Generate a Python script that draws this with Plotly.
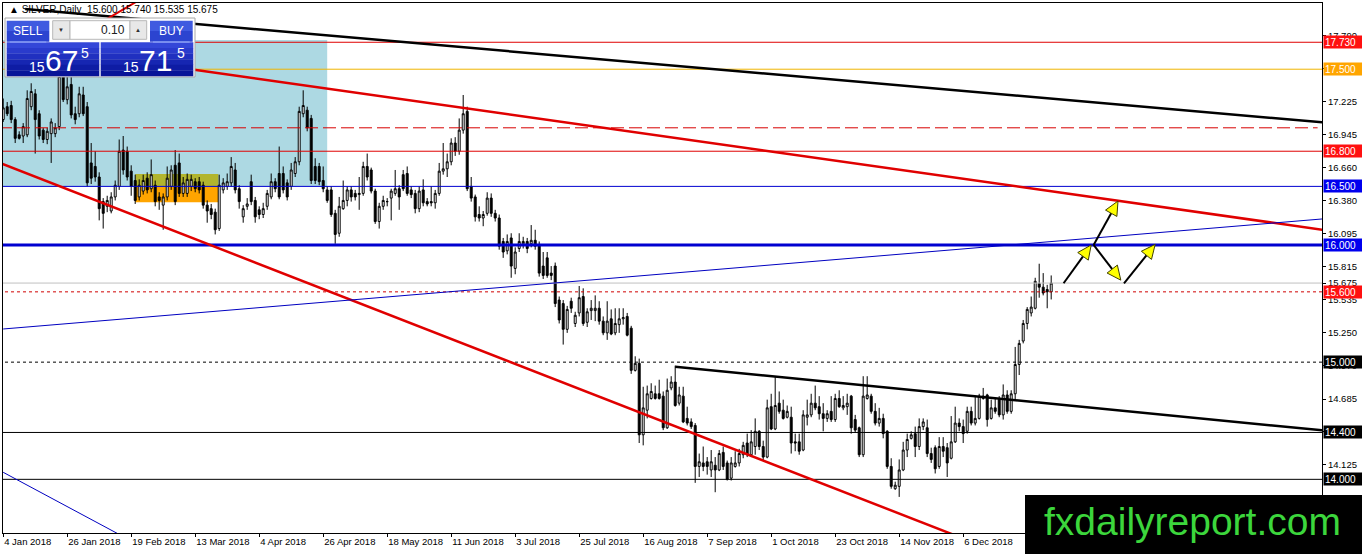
import plotly.graph_objects as go

# ---------------- data ----------------
BARS = list(range(263))
OPEN = [17.07,17.18,17.19,17.07,16.94,16.93,16.94,17.18,17.29,17.12,
        16.98,16.90,16.95,16.95,17.01,17.45,17.24,17.37,17.12,17.12,
        17.28,17.18,16.70,16.67,16.58,16.37,16.33,16.29,16.41,16.50,
        16.81,16.80,16.63,16.55,16.41,16.46,16.57,16.48,16.51,16.41,
        16.34,16.41,16.50,16.68,16.70,16.44,16.44,16.50,16.54,16.54,
        16.51,16.34,16.31,16.28,16.14,16.47,16.50,16.53,16.64,16.48,
        16.24,16.33,16.54,16.38,16.30,16.26,16.33,16.41,16.54,16.61,
        16.61,16.53,16.50,16.61,16.71,17.12,17.15,17.08,16.67,16.67,
        16.55,16.47,16.47,16.27,16.10,16.31,16.38,16.47,16.44,16.43,
        16.44,16.67,16.64,16.46,16.20,16.33,16.37,16.40,16.44,16.48,
        16.60,16.61,16.47,16.44,16.31,16.47,16.37,16.37,16.36,16.44,
        16.63,16.65,16.71,16.87,16.80,16.98,17.14,16.50,16.41,16.26,
        16.23,16.27,16.40,16.27,16.23,16.03,15.95,16.06,15.80,15.97,
        16.01,16.03,16.01,16.04,16.00,15.82,15.89,15.76,15.82,15.53,
        15.50,15.28,15.52,15.33,15.42,15.56,15.34,15.44,15.44,15.46,
        15.35,15.25,15.37,15.25,15.32,15.37,15.39,15.29,14.93,14.99,
        14.38,14.59,14.69,14.73,14.73,14.71,14.44,14.78,14.83,14.65,
        14.71,14.52,14.49,14.46,14.11,14.14,14.15,14.08,14.12,14.08,
        14.23,14.14,14.01,14.11,14.14,14.21,14.31,14.21,14.28,14.41,
        14.28,14.19,14.62,14.43,14.65,14.59,14.53,14.53,14.32,14.32,
        14.25,14.53,14.55,14.65,14.62,14.56,14.52,14.58,14.51,14.69,
        14.61,14.62,14.71,14.51,14.44,14.21,14.69,14.71,14.58,14.48,
        14.52,14.41,14.11,13.92,13.94,14.08,14.25,14.35,14.39,14.28,
        14.45,14.44,14.22,14.27,14.11,14.28,14.27,14.18,14.32,14.48,
        14.45,14.41,14.58,14.48,14.52,14.69,14.72,14.52,14.61,14.68,
        14.55,14.72,14.58,14.73,14.98,15.18,15.33,15.42,15.46,15.67,
        15.64,15.62,15.600]
HIGH = [17.25,17.22,17.23,17.09,16.97,17.04,17.32,17.38,17.33,17.15,
        17.00,17.00,17.08,17.04,17.52,17.60,17.55,17.45,17.18,17.35,
        17.35,17.22,16.87,16.80,16.62,16.40,16.42,16.45,16.55,16.90,
        16.93,16.84,16.68,16.60,16.56,16.60,16.62,16.73,16.55,16.45,
        16.44,16.67,16.68,16.81,16.78,16.58,16.61,16.60,16.57,16.58,
        16.54,16.38,16.35,16.31,16.60,16.57,16.61,16.75,16.70,16.51,
        16.34,16.40,16.60,16.41,16.33,16.36,16.47,16.61,16.57,16.84,
        16.67,16.56,16.70,16.75,17.18,17.32,17.18,17.11,16.74,16.70,
        16.67,16.50,16.50,16.30,16.41,16.55,16.50,16.50,16.47,16.58,
        16.71,16.78,16.66,16.48,16.36,16.42,16.40,16.48,16.64,16.51,
        16.64,16.67,16.50,16.47,16.50,16.56,16.40,16.50,16.47,16.70,
        16.87,16.78,16.91,16.92,17.08,17.28,17.18,16.58,16.43,16.33,
        16.29,16.45,16.44,16.30,16.26,16.06,16.09,16.10,15.98,16.10,
        16.07,16.06,16.17,16.13,16.03,15.94,15.94,15.82,15.85,15.56,
        15.53,15.48,15.55,15.43,15.65,15.63,15.46,15.53,15.57,15.52,
        15.39,15.52,15.45,15.46,15.46,15.46,15.42,15.31,15.05,15.03,
        14.79,14.80,14.82,14.80,14.85,14.75,14.86,14.88,14.97,14.79,
        14.79,14.62,14.52,14.48,14.22,14.28,14.19,14.25,14.19,14.25,
        14.28,14.16,14.19,14.24,14.26,14.32,14.39,14.42,14.52,14.42,
        14.33,14.68,14.73,14.88,14.75,14.68,14.63,14.62,14.39,14.39,
        14.59,14.68,14.73,14.80,14.71,14.65,14.59,14.71,14.73,14.76,
        14.71,14.73,14.72,14.55,14.45,14.88,14.88,14.73,14.65,14.61,
        14.56,14.42,14.18,13.98,14.17,14.32,14.39,14.41,14.45,14.52,
        14.52,14.51,14.27,14.29,14.36,14.36,14.31,14.54,14.62,14.52,
        14.51,14.62,14.62,14.71,14.73,14.78,14.73,14.68,14.69,14.71,
        14.81,14.76,14.76,15.13,15.19,15.36,15.47,15.56,15.72,15.84,
        15.76,15.66,15.740]
LOW = [17.05,17.10,17.04,16.87,16.90,16.87,16.92,17.15,16.78,16.90,
       16.87,16.86,16.70,16.92,16.98,17.22,17.20,17.08,17.03,17.09,
       17.10,16.50,16.52,16.54,16.21,16.14,16.28,16.27,16.38,16.47,
       16.60,16.55,16.42,16.35,16.38,16.43,16.44,16.45,16.33,16.30,
       16.13,16.38,16.47,16.34,16.41,16.41,16.41,16.46,16.45,16.44,
       16.31,16.19,16.22,16.09,16.12,16.44,16.47,16.50,16.44,16.31,
       16.19,16.30,16.34,16.19,16.22,16.23,16.30,16.39,16.45,16.39,
       16.44,16.38,16.47,16.58,16.68,17.09,16.97,16.52,16.52,16.51,
       16.45,16.36,16.24,16.01,16.07,16.30,16.33,16.37,16.38,16.30,
       16.42,16.55,16.44,16.18,16.14,16.30,16.33,16.21,16.42,16.30,
       16.46,16.42,16.40,16.27,16.28,16.33,16.33,16.33,16.31,16.42,
       16.60,16.58,16.68,16.76,16.77,16.95,16.46,16.37,16.20,16.20,
       16.16,16.25,16.24,16.20,15.96,15.89,15.92,15.72,15.75,15.94,
       15.97,15.93,15.98,15.96,15.73,15.71,15.72,15.70,15.47,15.33,
       15.15,15.25,15.42,15.30,15.39,15.31,15.30,15.36,15.35,15.32,
       15.23,15.19,15.23,15.23,15.25,15.32,15.22,14.90,14.92,14.31,
       14.29,14.52,14.68,14.68,14.68,14.42,14.43,14.76,14.62,14.63,
       14.48,14.46,14.43,13.97,14.02,14.07,14.04,14.02,13.89,14.07,
       14.08,13.99,13.99,14.10,14.11,14.18,14.19,14.19,14.21,14.25,
       14.16,14.18,14.42,14.42,14.56,14.51,14.52,14.22,14.24,14.21,
       14.24,14.46,14.53,14.59,14.51,14.41,14.49,14.49,14.49,14.61,
       14.59,14.55,14.39,14.40,14.19,14.19,14.68,14.56,14.46,14.45,
       14.35,14.09,13.92,13.91,13.85,14.07,14.19,14.34,14.19,14.25,
       14.42,14.19,14.14,14.05,14.09,14.19,14.02,14.17,14.31,14.41,
       14.31,14.39,14.46,14.46,14.51,14.68,14.45,14.51,14.56,14.53,
       14.51,14.56,14.56,14.68,14.89,15.16,15.28,15.39,15.45,15.55,
       15.57,15.46,15.535]
CLOSE = [17.17,17.12,17.07,16.91,16.91,17.01,17.25,17.31,17.07,16.93,
         16.90,16.97,17.05,17.00,17.44,17.24,17.35,17.11,17.07,17.29,
         17.12,16.53,16.57,16.58,16.31,16.27,16.38,16.41,16.51,16.80,
         16.64,16.58,16.50,16.38,16.51,16.55,16.47,16.60,16.37,16.38,
         16.41,16.57,16.64,16.37,16.44,16.53,16.56,16.56,16.48,16.47,
         16.34,16.29,16.26,16.13,16.51,16.53,16.54,16.67,16.47,16.37,
         16.31,16.35,16.37,16.24,16.26,16.31,16.44,16.54,16.48,16.41,
         16.47,16.41,16.64,16.71,17.14,17.19,17.00,16.55,16.55,16.54,
         16.48,16.38,16.26,16.09,16.33,16.38,16.47,16.41,16.41,16.44,
         16.67,16.58,16.46,16.20,16.33,16.38,16.37,16.46,16.48,16.41,
         16.48,16.44,16.43,16.31,16.46,16.36,16.35,16.36,16.44,16.63,
         16.65,16.71,16.87,16.80,16.98,17.12,16.48,16.40,16.24,16.23,
         16.26,16.40,16.27,16.23,15.99,15.94,16.03,15.82,15.94,16.03,
         16.03,15.97,16.04,15.99,15.76,15.74,15.74,15.74,15.50,15.36,
         15.28,15.45,15.46,15.40,15.55,15.33,15.43,15.46,15.46,15.35,
         15.25,15.35,15.24,15.33,15.37,15.38,15.23,14.93,14.99,14.38,
         14.61,14.73,14.75,14.69,14.69,14.44,14.76,14.83,14.63,14.72,
         14.49,14.48,14.45,14.11,14.15,14.11,14.11,14.15,14.08,14.22,
         14.11,14.00,14.14,14.14,14.22,14.29,14.21,14.32,14.41,14.28,
         14.19,14.61,14.43,14.63,14.58,14.52,14.58,14.31,14.31,14.24,
         14.55,14.55,14.65,14.61,14.56,14.52,14.56,14.51,14.69,14.62,
         14.63,14.65,14.44,14.42,14.21,14.71,14.72,14.58,14.48,14.52,
         14.39,14.11,13.94,13.95,14.08,14.25,14.34,14.38,14.28,14.45,
         14.49,14.22,14.17,14.09,14.28,14.24,14.14,14.32,14.48,14.45,
         14.39,14.58,14.48,14.52,14.71,14.71,14.51,14.61,14.58,14.55,
         14.72,14.58,14.73,14.98,15.16,15.33,15.45,15.47,15.69,15.64,
         15.59,15.60,15.675]

DATE_TICK_BARS = [0, 16, 32, 48, 64, 80, 96, 112, 128, 144, 160, 176, 192, 208, 224, 240]
DATE_LABELS = ["4 Jan 2018", "26 Jan 2018", "19 Feb 2018", "13 Mar 2018", "4 Apr 2018",
               "26 Apr 2018", "18 May 2018", "11 Jun 2018", "3 Jul 2018", "25 Jul 2018",
               "16 Aug 2018", "7 Sep 2018", "1 Oct 2018", "23 Oct 2018", "14 Nov 2018",
               "6 Dec 2018"]

PRICE_TICKS = [17.790, 17.505, 17.225, 16.945, 16.660, 16.380, 16.095, 15.815, 15.675,
               15.535, 15.250, 14.970, 14.685, 14.405, 14.125, 13.840]
PRICE_TICK_TEXT = ["17.790", "17.505", "17.225", "16.945", "16.660", "16.380", "16.095",
                   "15.815", "15.675", "15.535", "15.250", "14.970", "14.685", "14.405",
                   "14.125", "13.840"]

# horizontal levels
LEVEL_PRICES = [17.73, 17.50, 17.00, 16.80, 16.50, 16.00, 15.675, 15.60, 15.00, 14.40, 14.00]
LEVEL_LABELS = ["17.730", "17.500", "", "16.800", "16.500", "16.000", "", "15.600", "15.000",
                "14.400", "14.000"]

# trend lines: (bar, price) -> (bar, price)
TREND_BAR0 = [5.5, 20.0, 25.0, -1.0, 0.0, 0.0, 168.0]
TREND_P0 = [18.014, 17.63, 17.91, 16.702, 15.283, 14.060, 14.961]
TREND_BAR1 = [329.75, 329.75, 34.5, 240.0, 329.75, 32.0, 329.75]
TREND_P1 = [17.047, 16.130, 18.10, 13.495, 16.222, 13.475, 14.418]

# zones (rectangles)
ZONE_BAR0 = [-1.0, 33.0, 33.0]
ZONE_BAR1 = [81.0, 53.8, 53.8]
ZONE_LOW = [16.50, 16.364, 16.50]
ZONE_HIGH = [17.75, 16.50, 16.606]

# forecast arrows
ARROW_BAR0 = [265.1, 272.6, 272.6, 280.2]
ARROW_P0 = [15.673, 16.000, 16.000, 15.673]
ARROW_BAR1 = [272.0, 278.7, 279.4, 288.0]
ARROW_P1 = [16.000, 16.375, 15.700, 16.005]

HEADER = "\u25B2 SILVER,Daily  15.600 15.740 15.535 15.675"

# ---------------- layout geometry ----------------
W, H = 1362, 554
ML, MR, MT, MB = 3, 40, 3, 21
PW, PH = W - ML - MR, H - MT - MB
X_RANGE = [-0.05, 329.7]
Y_RANGE = [13.542, 18.065]
SX = PW / (X_RANGE[1] - X_RANGE[0])
SY = PH / (Y_RANGE[1] - Y_RANGE[0])
FONT = "Liberation Sans, Arial, sans-serif"


def px(xp):
    return (xp - ML) / PW


def py(yp):
    return (MT + PH - yp) / PH


fig = go.Figure()
fig.add_trace(go.Candlestick(
    x=BARS, open=OPEN, high=HIGH, low=LOW, close=CLOSE,
    increasing=dict(line=dict(color="black", width=1), fillcolor="white"),
    decreasing=dict(line=dict(color="black", width=1), fillcolor="black"),
    whiskerwidth=0, showlegend=False, hoverinfo="skip"))

shapes = []
zone_colors = ["#add9e3", "#ffa500", "#b2b52e"]
for b0, b1, lo, hi, col in zip(ZONE_BAR0, ZONE_BAR1, ZONE_LOW, ZONE_HIGH, zone_colors):
    shapes.append(dict(type="rect", xref="x", yref="y", x0=b0, x1=b1, y0=lo, y1=hi,
                       fillcolor=col, line=dict(width=0), layer="below"))

level_style = {
    17.73: dict(color="#e00000", width=1),
    17.50: dict(color="#f0b400", width=1),
    17.00: dict(color="#d80000", width=1, dash="13px,5px"),
    16.80: dict(color="#e00000", width=1),
    16.50: dict(color="#0000d0", width=1),
    16.00: dict(color="#0000d0", width=3),
    15.675: dict(color="#c0c0c0", width=1),
    15.60: dict(color="#d00000", width=1, dash="3px,3px"),
    15.00: dict(color="black", width=1, dash="3px,3px"),
    14.40: dict(color="black", width=1),
    14.00: dict(color="black", width=1),
}
for p in LEVEL_PRICES:
    x1 = 328.6 if p == 17.00 else X_RANGE[1] + 1
    shapes.append(dict(type="line", xref="x", yref="y", x0=X_RANGE[0] - 1, x1=x1, y0=p, y1=p,
                       line=level_style[p], layer="above"))

trend_styles = [
    dict(color="black", width=2.5),
    dict(color="#e00000", width=2.5),
    dict(color="#e00000", width=2),
    dict(color="#e00000", width=2.5),
    dict(color="#0000c0", width=1),
    dict(color="#0000c0", width=1),
    dict(color="black", width=2.5),
]
for b0, p0, b1, p1, st in zip(TREND_BAR0, TREND_P0, TREND_BAR1, TREND_P1, trend_styles):
    shapes.append(dict(type="line", xref="x", yref="y", x0=b0, y0=p0, x1=b1, y1=p1,
                       line=st, layer="above"))

# arrows with yellow heads
HEAD_L, HEAD_W = 14.0, 6.5
for b0, p0, b1, p1 in zip(ARROW_BAR0, ARROW_P0, ARROW_BAR1, ARROW_P1):
    dx, dy = (b1 - b0) * SX, (p1 - p0) * SY
    ln = (dx * dx + dy * dy) ** 0.5
    ux, uy = dx / ln, dy / ln
    bxp, byp = -HEAD_L * ux, -HEAD_L * uy
    nx, ny = -uy, ux
    base_b, base_p = b1 + bxp / SX, p1 + byp / SY
    lb, lp = b1 + (bxp + HEAD_W * nx) / SX, p1 + (byp + HEAD_W * ny) / SY
    rb, rp = b1 + (bxp - HEAD_W * nx) / SX, p1 + (byp - HEAD_W * ny) / SY
    shapes.append(dict(type="line", xref="x", yref="y", x0=b0, y0=p0, x1=base_b, y1=base_p,
                       line=dict(color="black", width=2), layer="above"))
    shapes.append(dict(type="path", xref="x", yref="y",
                       path=f"M {b1},{p1} L {lb},{lp} L {rb},{rp} Z",
                       fillcolor="#ffff00", line=dict(color="#404000", width=1), layer="above"))


def prect(x0, y0, x1, y1, fill, line=None):
    return dict(type="rect", xref="paper", yref="paper", x0=px(x0), x1=px(x1),
                y0=py(y1), y1=py(y0), fillcolor=fill,
                line=dict(width=1 if line else 0, color=line or fill), layer="above")


# watermark
shapes.append(prect(1025, 495, 1370, 560, "black"))

# one-click trading widget
shapes.append(prect(5, 18, 195, 77, "white", "#a8a8a8"))
blues = ["#3447d8", "#2a3bcc", "#2030c0", "#1626b2", "#0e1ca4", "#081498"]
for (x0, x1) in [(6.7, 99.3), (100.7, 193.3)]:
    band_h = (76 - 42.3) / len(blues)
    for k, c in enumerate(blues):
        shapes.append(prect(x0, 42.3 + k * band_h, x1, 42.3 + (k + 1) * band_h + 0.3, c))
for (x0, x1) in [(6.7, 49.3), (150, 192.7)]:
    shapes.append(prect(x0, 20.7, x1, 31, "#3f5ae0"))
    shapes.append(prect(x0, 31, x1, 41.7, "#2c44d0"))
    shapes.append(dict(type="line", xref="paper", yref="paper", x0=px(x0 + 3), x1=px(x1 - 3),
                       y0=py(42), y1=py(42), line=dict(color="#8fa8ff", width=1), layer="above"))
shapes.append(prect(52.7, 20.7, 70, 39.3, "#e8e8e8", "#b8b8b8"))
shapes.append(prect(70, 20.7, 130, 39.3, "white", "#b8b8b8"))
shapes.append(prect(130, 20.7, 146.7, 39.3, "#e8e8e8", "#b8b8b8"))

annotations = []
label_colors = {17.73: "#ff1010", 17.50: "#ffa500", 16.80: "#ff1010", 16.50: "#0000ee",
                16.00: "#0000ee", 15.60: "#ff1010", 15.00: "black", 14.40: "black", 14.00: "black"}
for p, t in zip(LEVEL_PRICES, LEVEL_LABELS):
    if not t:
        continue
    annotations.append(dict(x=1, xref="paper", y=p, yref="y", xanchor="left", yanchor="middle",
                            xshift=1, text=t, showarrow=False, bgcolor=label_colors[p],
                            font=dict(family=FONT, size=10, color="white"),
                            width=38, height=10, align="left", borderpad=1))


def ptext(x, y, t, size, color, xanchor="center"):
    return dict(x=px(x), y=py(y), xref="paper", yref="paper", text=t, showarrow=False,
                xanchor=xanchor, yanchor="middle", font=dict(family=FONT, size=size, color=color))


annotations += [
    ptext(7, 10, HEADER, 10, "black", "left"),
    ptext(27.5, 31, "SELL", 12, "white"),
    ptext(171, 31, "BUY", 12, "white"),
    ptext(127, 30, "0.10", 12, "#202020", "right"),
    ptext(61.3, 30, "\u25BC", 6, "#303030"),
    ptext(138.3, 30, "\u25B2", 6, "#303030"),
    ptext(36.5, 67, "15", 14, "white"),
    ptext(61, 61, "67", 30, "white"),
    ptext(85, 52.5, "5", 14, "white"),
    ptext(131, 67, "15", 14, "white"),
    ptext(155, 61, "71", 30, "white"),
    ptext(180.5, 52.5, "5", 14, "white"),
    ptext(1192, 521, "fxdailyreport.com", 39, "#3cd63c"),
]

fig.update_layout(
    width=W, height=H, margin=dict(l=ML, r=MR, t=MT, b=MB, pad=0),
    paper_bgcolor="white", plot_bgcolor="white", showlegend=False,
    shapes=shapes, annotations=annotations,
    xaxis=dict(range=X_RANGE, tickvals=DATE_TICK_BARS, ticktext=DATE_LABELS,
               ticks="outside", ticklen=3, tickcolor="black", ticklabelposition="outside right",
               showline=True, linecolor="black", linewidth=1, mirror=True,
               showgrid=False, zeroline=False, rangeslider=dict(visible=False),
               tickfont=dict(family=FONT, size=9.5, color="black"), fixedrange=True),
    yaxis=dict(range=Y_RANGE, side="right", tickvals=PRICE_TICKS, ticktext=PRICE_TICK_TEXT,
               ticks="outside", ticklen=3, tickcolor="black",
               showline=True, linecolor="black", linewidth=1, mirror=True,
               showgrid=False, zeroline=False,
               tickfont=dict(family=FONT, size=9.5, color="black"), fixedrange=True),
)

fig.write_html("out.html", config={"displayModeBar": False},
               post_script="document.body.style.margin='0px';document.body.style.overflow='hidden';")
